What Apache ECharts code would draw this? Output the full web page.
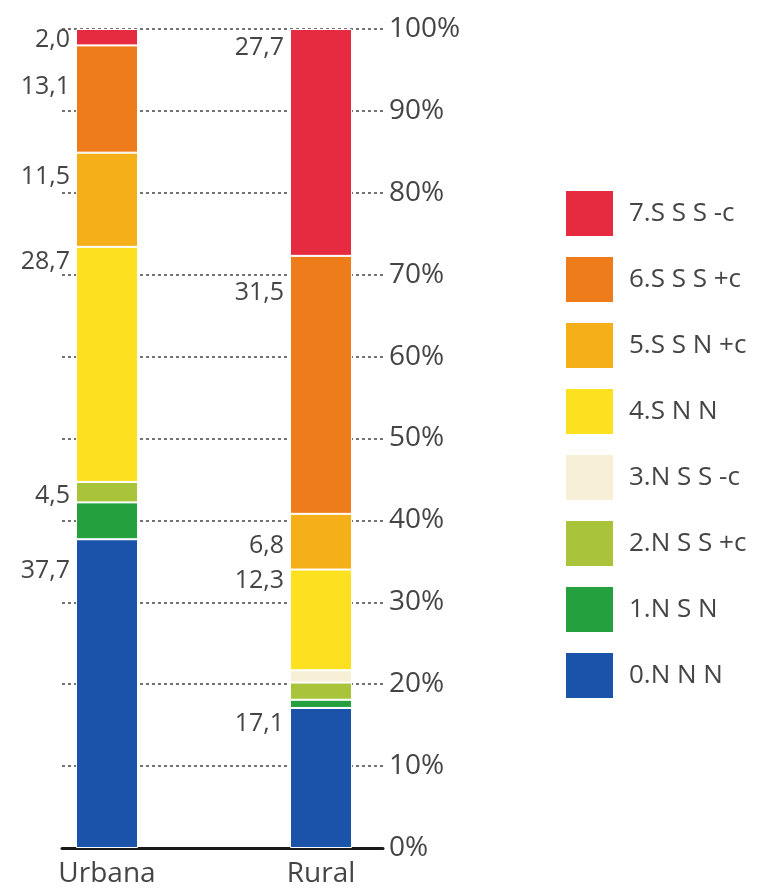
<!DOCTYPE html>
<html>
<head>
<meta charset="utf-8">
<script src="https://cdn.jsdelivr.net/npm/echarts@6/dist/echarts.min.js"></script>
<style>
  html, body { margin: 0; padding: 0; background: #fff; }
  #chart { width: 765px; height: 892px; }
</style>
</head>
<body>
<div id="chart"></div>
<script>
const categories = ['Urbana', 'Rural'];
const seriesNames = ['0.N N N', '1.N S N', '2.N S S +c', '3.N S S -c', '4.S N N', '5.S S N +c', '6.S S S +c', '7.S S S -c'];
// percentages, [Urbana, Rural]
const nnn = [37.7, 17.1];
const nsn = [4.5, 1.0];
const nssPlus = [2.5, 2.1];
const nssMinus = [0, 1.5];
const snn = [28.7, 12.3];
const ssnPlus = [11.5, 6.8];
const sssPlus = [13.1, 31.5];
const sssMinus = [2.0, 27.7];
const values = [nnn, nsn, nssPlus, nssMinus, snn, ssnPlus, sssPlus, sssMinus];

// styling
const colors = ['#1c53aa', '#25a03f', '#a9c43a', '#f7efd6', '#fde020', '#f5af18', '#ee7c1b', '#e62b40'];
// vertical offset of each value label from top of its segment (null = no label)
const labelDy = [
  [32, 16], [-7, null], [null, null], [null, null],
  [15, 11], [24, 32], [41, 37], [11, 19]
];
const font = 'Open Sans';
const textColor = '#454545';

const chart = echarts.init(document.getElementById('chart'));

// bars live in grid 0 (category axis), the visible % axis / gridlines / baseline in grid 1
const series = values.map((vals, i) => ({
  name: seriesNames[i],
  type: 'bar',
  stack: 'total',
  xAxisIndex: 0,
  yAxisIndex: 0,
  barWidth: 62,
  itemStyle: { color: colors[i], borderColor: '#fff', borderWidth: 1 },
  data: vals.map((v, j) => {
    const dy = labelDy[i][j];
    return {
      value: v,
      label: {
        show: dy !== null && v > 0,
        position: [-6, dy === null ? 0 : dy],
        align: 'right',
        verticalAlign: 'middle',
        formatter: () => v.toFixed(1).replace('.', ','),
        fontFamily: font,
        fontSize: 25,
        color: textColor
      }
    };
  })
}));

const option = {
  animation: false,
  backgroundColor: '#fff',
  grid: [
    { left: 0, right: 337, top: 29, bottom: 44 },
    { left: 62, right: 382, top: 29, bottom: 44 }
  ],
  legend: {
    orient: 'vertical',
    left: 564,
    top: 189,
    padding: 0,
    itemWidth: 49,
    itemHeight: 47,
    itemGap: 17,
    icon: 'rect',
    data: seriesNames.slice().reverse(),
    textStyle: { fontFamily: font, fontSize: 26, color: textColor, padding: [0, 0, 0, 10] }
  },
  xAxis: [
    {
      type: 'category',
      gridIndex: 0,
      data: categories,
      axisLine: { show: false },
      axisTick: { show: false },
      axisLabel: { fontFamily: font, fontSize: 28, color: textColor, margin: 12 }
    },
    {
      type: 'value',
      gridIndex: 1,
      min: 0,
      max: 1,
      splitLine: { show: false },
      axisTick: { show: false },
      axisLabel: { show: false },
      axisLine: { show: true, lineStyle: { color: '#1a1a1a', width: 3 } }
    }
  ],
  yAxis: [
    {
      type: 'value',
      gridIndex: 0,
      min: 0,
      max: 100,
      show: false
    },
    {
      type: 'value',
      gridIndex: 1,
      position: 'right',
      min: 0,
      max: 100,
      interval: 10,
      axisLine: { show: false },
      axisTick: { show: false },
      axisLabel: {
        formatter: '{value}%',
        fontFamily: font,
        fontSize: 28,
        color: textColor,
        margin: 6
      },
      splitLine: { show: true, lineStyle: { color: '#444', type: [3, 3], width: 1.5 } }
    }
  ],
  series: series
};
chart.setOption(option);
</script>
</body>
</html>
